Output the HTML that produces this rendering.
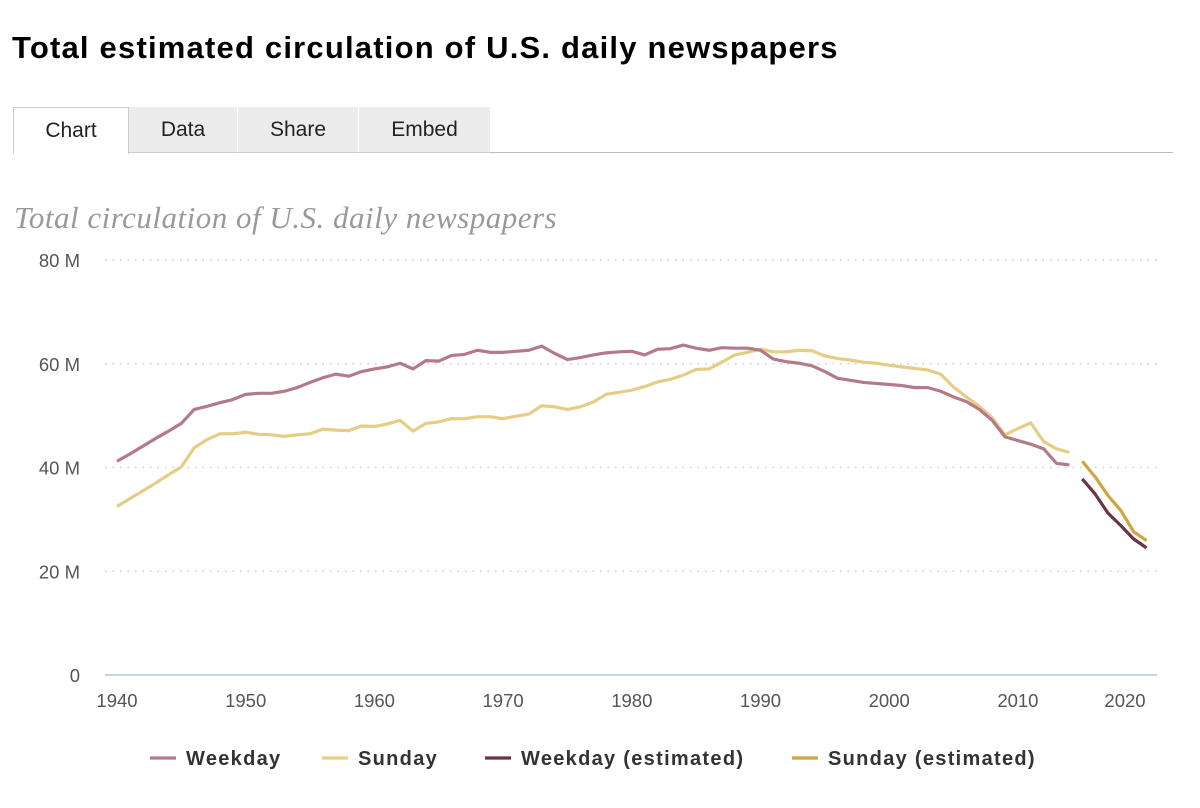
<!DOCTYPE html>
<html><head><meta charset="utf-8"><style>
body{margin:0;background:#fff;width:1200px;height:808px;overflow:hidden;font-family:"Liberation Sans",sans-serif}
#title{position:absolute;left:12px;top:30px;font-size:31px;font-weight:bold;color:#000;letter-spacing:1.2px}
.tab{position:absolute;top:107px;height:46px;line-height:46px;text-align:center;font-size:21px;color:#222;background:#ececec;border-bottom:1px solid #ccc;box-sizing:border-box}
#rule{position:absolute;left:13px;top:152px;width:1160px;height:1px;background:#bbb}
#sub{position:absolute;left:14px;top:200px;font-family:"Liberation Serif",serif;font-style:italic;font-size:31px;color:#999;letter-spacing:0.5px}
svg{position:absolute;left:0;top:0}
</style></head><body>
<div id="title">Total estimated circulation of U.S. daily newspapers</div>
<div id="rule"></div>
<div class="tab" style="left:13px;width:116px;background:#fff;border:1px solid #ccc;border-bottom:none;height:47px">Chart</div>
<div class="tab" style="left:129px;width:108px">Data</div>
<div class="tab" style="left:238px;width:120px">Share</div>
<div class="tab" style="left:359px;width:131px">Embed</div>
<div id="sub">Total circulation of U.S. daily newspapers</div>
<svg id="chart" width="1200" height="808"></svg>
<script>
const years=[];for(let y=1940;y<=2014;y++)years.push(y);
const estYears=[2015,2016,2017,2018,2019,2020];
const weekday=[41.2,42.6,44.1,45.6,47.0,48.5,51.2,51.8,52.5,53.1,54.1,54.3,54.3,54.7,55.4,56.4,57.3,58.0,57.6,58.5,59.0,59.4,60.1,59.0,60.6,60.5,61.6,61.8,62.6,62.2,62.2,62.4,62.6,63.4,62.0,60.8,61.2,61.7,62.1,62.3,62.4,61.7,62.8,62.9,63.6,63.0,62.6,63.1,63.0,63.0,62.6,60.9,60.4,60.1,59.6,58.5,57.2,56.8,56.4,56.2,56.0,55.8,55.4,55.4,54.7,53.6,52.7,51.2,49.1,45.9,45.2,44.5,43.6,40.8,40.5];
const sunday=[32.5,34.0,35.5,37.0,38.6,40.1,43.8,45.4,46.5,46.5,46.8,46.4,46.3,46.0,46.3,46.5,47.4,47.2,47.1,48.0,47.9,48.4,49.1,47.0,48.5,48.8,49.4,49.4,49.8,49.8,49.4,49.9,50.3,51.9,51.7,51.2,51.7,52.6,54.1,54.5,54.9,55.6,56.5,57.0,57.8,58.9,59.0,60.3,61.7,62.2,62.8,62.3,62.3,62.6,62.5,61.5,61.0,60.7,60.3,60.1,59.7,59.4,59.1,58.8,58.0,55.5,53.6,51.8,49.6,46.3,47.5,48.6,45.0,43.6,42.9];
const weekdayEst=[37.8,34.9,31.2,28.8,26.2,24.5];
const sundayEst=[41.2,38.2,34.6,31.7,27.6,25.9];
const yTicks=[0,20,40,60,80];
const xTicks=[1940,1950,1960,1970,1980,1990,2000,2010,2020];
const NS='http://www.w3.org/2000/svg',svg=document.getElementById('chart');
const X=y=>117+(y-1940)*12.87, Y=v=>675-v*5.1875;
function mk(t,a){const e=document.createElementNS(NS,t);for(const k in a)e.setAttribute(k,a[k]);svg.appendChild(e);return e;}
yTicks.forEach(v=>{
 const g=mk('line',{x1:105,x2:1157,y1:Y(v),y2:Y(v),stroke:v?'#ccc':'#c8d3e2','stroke-width':v?1.5:2,'stroke-dasharray':v?'1.5 6':''});
 
 
 const t=mk('text',{x:80,y:Y(v)+7,'text-anchor':'end','font-size':18.5,fill:'#555'});t.textContent=v?v+' M':'0';
 
 
});
xTicks.forEach(yr=>{
 const t=mk('text',{x:Math.min(X(yr),1125),y:707,'text-anchor':'middle','font-size':18.5,fill:'#555'});t.textContent=yr;
 
 
});
function line(xs,vs,c,n){const p=mk('polyline',{points:xs.map((x,i)=>X(x)+','+Y(vs[i])).join(' '),fill:'none',stroke:c,'stroke-width':3.2,'stroke-linejoin':'round'});
 
 }
line(years,sunday,'#e6cd86','sunday-line');
line(years,weekday,'#b47a87','weekday-line');
line(estYears,sundayEst,'#cfa53d','sunday-estimated-line');
line(estYears,weekdayEst,'#6b3347','weekday-estimated-line');
const leg=[['Weekday','#b47a87',150],['Sunday','#e6cd86',322],['Weekday (estimated)','#6b3347',485],['Sunday (estimated)','#cfa53d',792]];
leg.forEach(([l,c,x])=>{
 const s=mk('line',{x1:x,x2:x+26,y1:758,y2:758,stroke:c,'stroke-width':3.2});
 
 
 const t=mk('text',{x:x+36,y:765,'font-size':20,'font-weight':'bold',fill:'#333','letter-spacing':1.3});t.textContent=l;
 
 
});
</script>
</body></html>
